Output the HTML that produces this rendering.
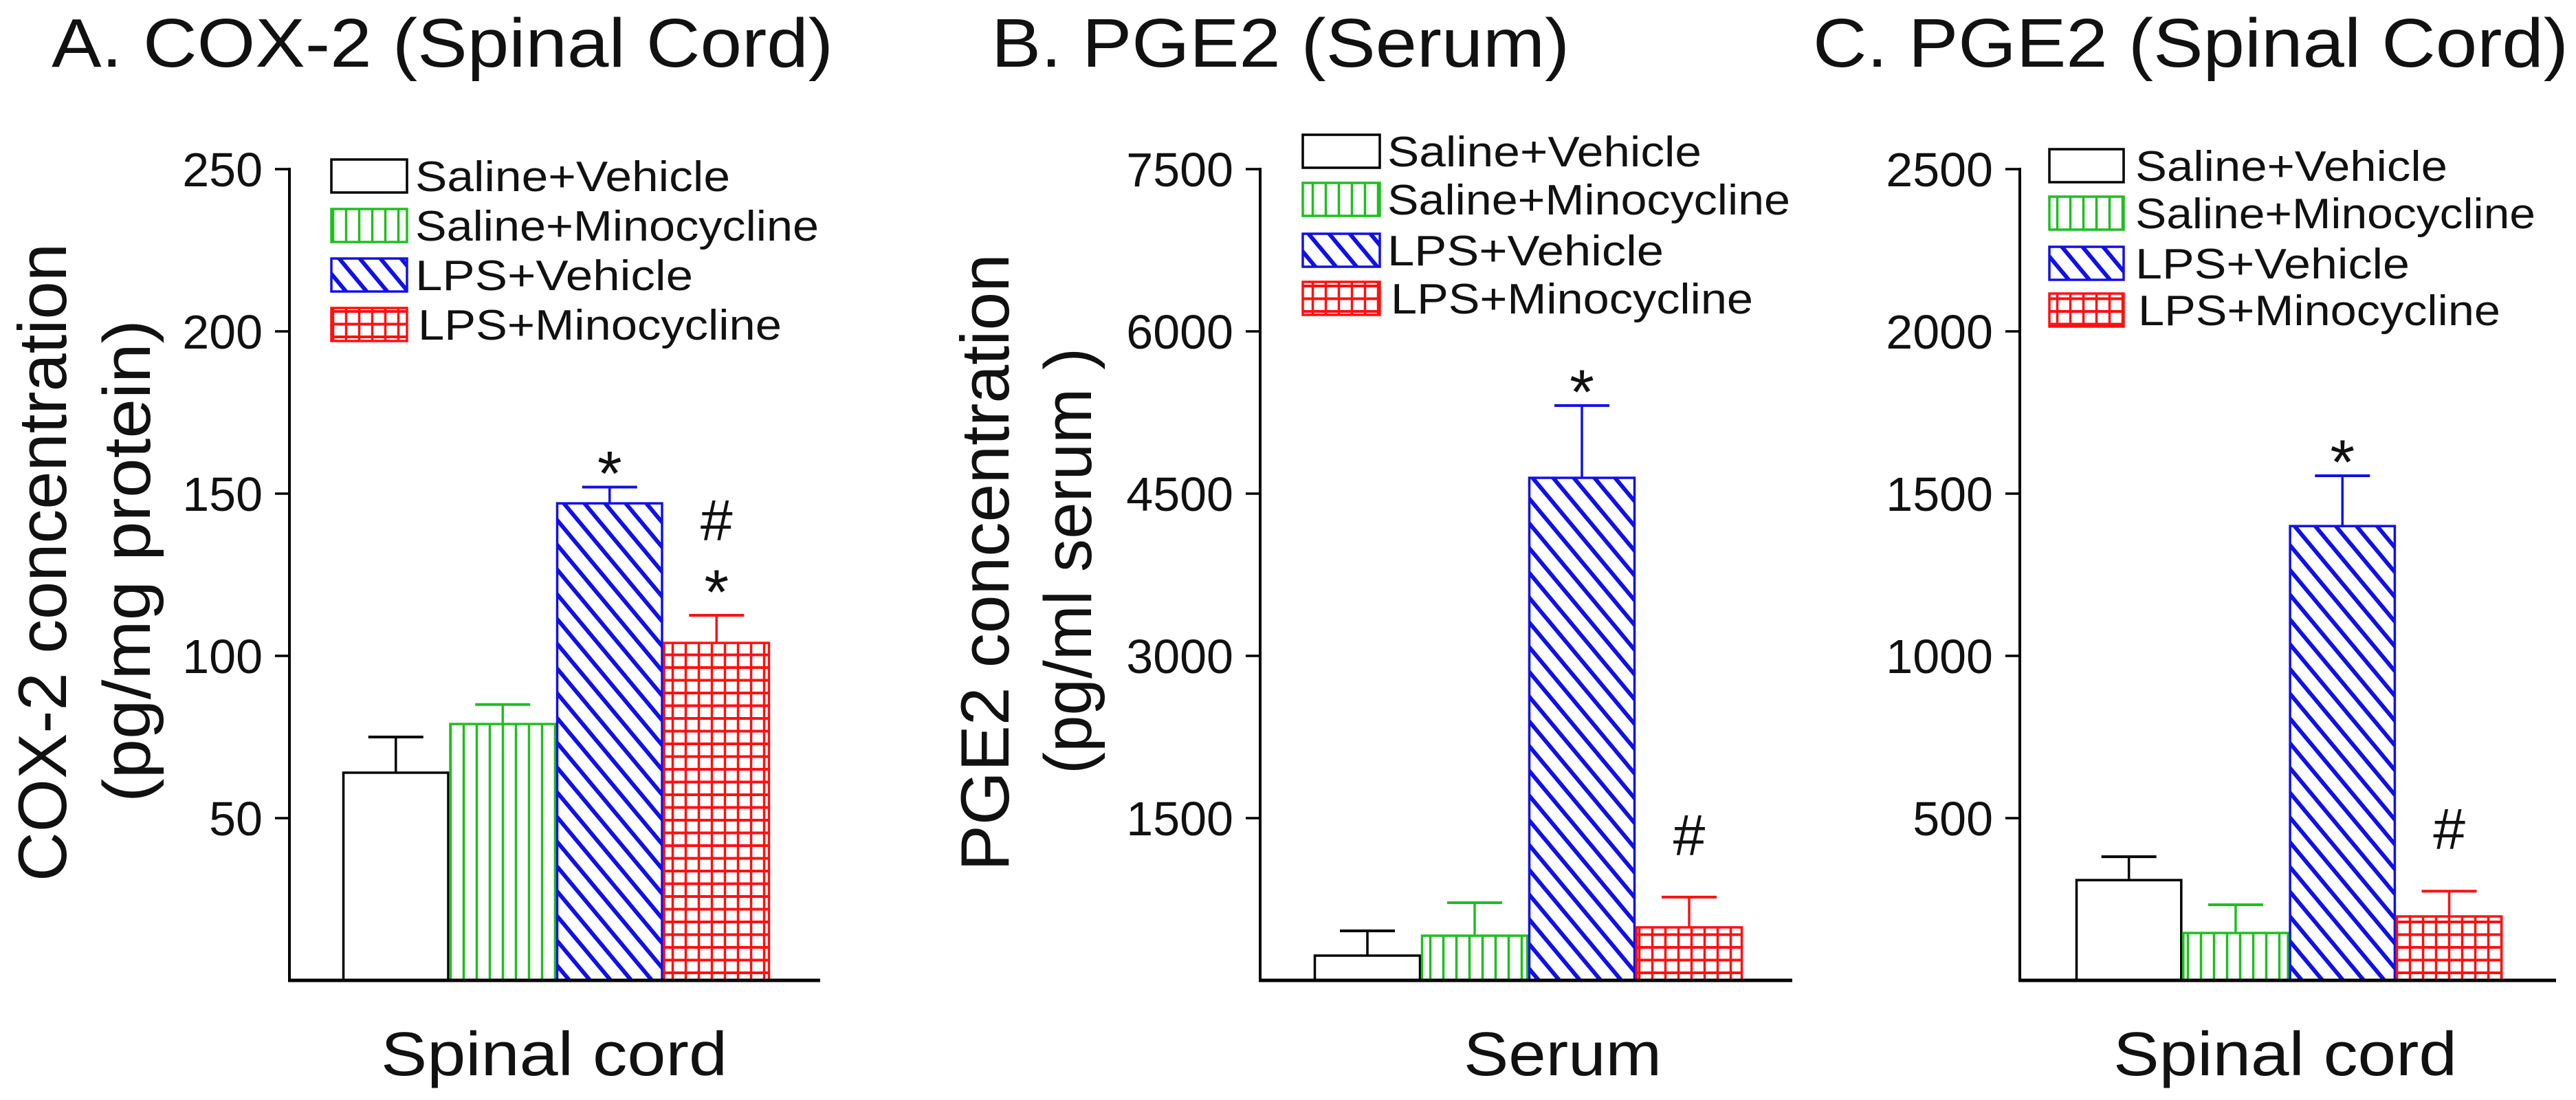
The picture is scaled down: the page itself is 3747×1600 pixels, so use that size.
<!DOCTYPE html>
<html><head><meta charset="utf-8"><style>
html,body{margin:0;padding:0;background:#fff;}
svg{display:block;font-family:"Liberation Sans",Arial,sans-serif;}
</style></head><body>
<svg id="fig" width="3747" height="1600" viewBox="0 0 3747 1600" xmlns="http://www.w3.org/2000/svg">
<defs>
<pattern id="pGreen" patternUnits="userSpaceOnUse" width="19" height="40"><rect width="19" height="40" fill="#fff"/><line x1="9.5" y1="0" x2="9.5" y2="40" stroke="#1fbf1f" stroke-width="3.5"/></pattern>
<pattern id="pBlue" patternUnits="userSpaceOnUse" width="30" height="36"><rect width="30" height="36" fill="#fff"/><path d="M0,0 L30,36 M-5,30 L5,42 M25,-6 L35,6" stroke="#1010e8" stroke-width="6"/></pattern>
<pattern id="pRed" patternUnits="userSpaceOnUse" width="19" height="18.5"><rect width="19" height="18.5" fill="#fff"/><line x1="9.5" y1="0" x2="9.5" y2="18.5" stroke="#ff1010" stroke-width="3.5"/><line x1="0" y1="9" x2="19" y2="9" stroke="#ff1010" stroke-width="4"/></pattern>
</defs>
</svg>
<script>
// ---- data ----
const groups = ["Saline+Vehicle","Saline+Minocycline","LPS+Vehicle","LPS+Minocycline"];
const coxMeans = [64, 79, 147, 104];
const coxErrTops = [75, 85, 152, 112.5];
const coxTicks = [50, 100, 150, 200, 250];
const serumMeans = [229, 413, 4646, 490];
const serumErrTops = [458, 718, 5314, 770];
const serumTicks = [1500, 3000, 4500, 6000, 7500];
const cordMeans = [309, 146, 1400, 197];
const cordErrTops = [381, 233, 1555, 275];
const cordTicks = [500, 1000, 1500, 2000, 2500];
const coxMarks = ["", "", "*", "#*"];
const serumMarks = ["", "", "*", "#"];
const cordMarks = ["", "", "*", "#"];

const NS = "http://www.w3.org/2000/svg";
const svg = document.getElementById('fig');
const fills = ["#fff","url(#pGreen)","url(#pBlue)","url(#pRed)"];
const strokes = ["#000","#1fbf1f","#1010e8","#ff1010"];
function mk(tag, attrs, parent){ const e=document.createElementNS(NS,tag); for(const k in attrs) e.setAttribute(k,attrs[k]); (parent||svg).appendChild(e); return e; }
function txt(str, attrs, parent){ const e=mk('text', attrs, parent); e.textContent=str; return e; }

const panels = [
 {id:'a', title:"A. COX-2 (Spinal Cord)", tx:75, tlen:1137,
  ax:421, xend:1193, bar0:498, bw:155.5, max:250, ticks:coxTicks, means:coxMeans, errs:coxErrTops, marks:coxMarks,
  lab1:"COX-2 concentration", l1x:96, l1len:928, lab2:"(pg/mg protein)", l2x:218, l2len:702,
  legX:482, legW:110, legY:[256,328,400,472], legTX:[604,604,604,608], legLen:[458,587,404,529],
  xl:"Spinal cord", xlx:554, xllen:504},
 {id:'b', title:"B. PGE2 (Serum)", tx:1442, tlen:841,
  ax:1833, xend:2607, bar0:1911, bw:156, max:7500, ticks:serumTicks, means:serumMeans, errs:serumErrTops, marks:serumMarks,
  lab1:"PGE2 concentration", l1x:1467, l1len:898, lab2:"(pg/ml serum )", l2x:1587, l2len:620,
  legX:1895, legW:112, legY:[220,290,364,434], legTX:[2018,2018,2018,2023], legLen:[457,586,402,527],
  xl:"Serum", xlx:2129, xllen:288},
 {id:'c', title:"C. PGE2 (Spinal Cord)", tx:2637, tlen:1099,
  ax:2938, xend:3718, bar0:3019, bw:155.3, max:2500, ticks:cordTicks, means:cordMeans, errs:cordErrTops, marks:cordMarks,
  lab1:null,
  legX:2981, legW:108, legY:[241,310,383,451], legTX:[3106,3106,3106,3110], legLen:[454,582,399,527],
  xl:"Spinal cord", xlx:3074, xllen:500}
];
const Y0 = 1426, YTOP = 246;

panels.forEach(p=>{
  const g = mk('g',{});
  
  
  const y = v => Y0 - (v/p.max)*(Y0-YTOP);
  const t = txt(p.title,{x:p.tx,y:97,'font-size':100,fill:'#111',textLength:p.tlen,lengthAdjust:'spacingAndGlyphs'},g);
  
  
  p.means.forEach((m,i)=>{
    const x = p.bar0 + i*p.bw;
    const cx = x + p.bw/2;
    const el = mk('line',{x1:cx,x2:cx,y1:y(m),y2:y(p.errs[i]),stroke:strokes[i],'stroke-width':3.5},g);
    
    
    const cap = mk('line',{x1:cx-40,x2:cx+40,y1:y(p.errs[i]),y2:y(p.errs[i]),stroke:strokes[i],'stroke-width':4},g);
    
    
    const r = mk('rect',{x:x+1.5,y:y(m),width:p.bw-3,height:Y0-y(m),fill:fills[i],stroke:strokes[i],'stroke-width':3.5},g);
    
    
    const mark = p.marks[i];
    if(mark.includes('*')){
      const sy = mark.includes('#') ? y(p.errs[i]) - 54 : y(p.errs[i]) - 40;
      const s = txt('*',{x:cx,y:sy+52,'font-size':92,'text-anchor':'middle',fill:'#111'},g);
      
      
    }
    if(mark.includes('#')){
      const hy = mark.includes('*') ? y(p.errs[i]) - 141 : y(p.errs[i]) - 93;
      const h = txt('#',{x:cx,y:hy+32,'font-size':84,'text-anchor':'middle',fill:'#111'},g);
      
      
    }
  });
  const ya = mk('line',{x1:p.ax,x2:p.ax,y1:YTOP-2,y2:Y0+2,stroke:'#000','stroke-width':4},g);
  
  
  const xa = mk('line',{x1:p.ax-2,x2:p.xend,y1:Y0,y2:Y0,stroke:'#000','stroke-width':5},g);
  
  
  p.ticks.forEach(tv=>{
    const tk = mk('line',{x1:p.ax-21,x2:p.ax,y1:y(tv),y2:y(tv),stroke:'#000','stroke-width':3.5},g);
    
    
    const tl = txt(String(tv),{x:p.ax-39,y:y(tv)+25,'font-size':70,'text-anchor':'end',fill:'#111'},g);
    
    
  });
  if(p.lab1){
    const a = txt(p.lab1,{x:0,y:0,'font-size':99,'text-anchor':'middle',fill:'#111',textLength:p.l1len,lengthAdjust:'spacingAndGlyphs',transform:`translate(${p.l1x},818) rotate(-90)`},g);
    
    
    const b = txt(p.lab2,{x:0,y:0,'font-size':97,'text-anchor':'middle',fill:'#111',textLength:p.l2len,lengthAdjust:'spacingAndGlyphs',transform:`translate(${p.l2x},816) rotate(-90)`},g);
    
    
  }
  const xl = txt(p.xl,{x:p.xlx,y:1564,'font-size':90,fill:'#111',textLength:p.xllen,lengthAdjust:'spacingAndGlyphs'},g);
  
  
  groups.forEach((name,i)=>{
    const cy = p.legY[i];
    const lb = mk('rect',{x:p.legX,y:cy-24,width:p.legW,height:48,fill:fills[i],stroke:strokes[i],'stroke-width':3.5},g);
    
    
    const lt = txt(name,{x:p.legTX[i],y:cy+22,'font-size':62,fill:'#111',textLength:p.legLen[i],lengthAdjust:'spacingAndGlyphs'},g);
    
    
  });
});
</script>
</body></html>
